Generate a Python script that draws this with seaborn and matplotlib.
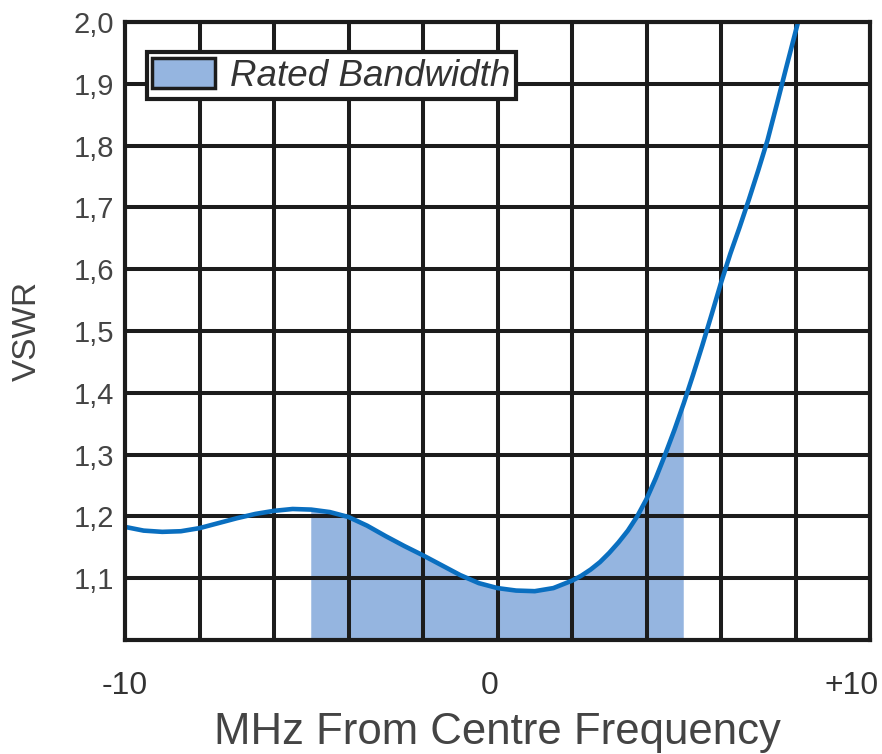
import matplotlib
matplotlib.use("Agg")
import matplotlib.pyplot as plt
import matplotlib.transforms as mtransforms
import seaborn as sns
import pandas as pd

# --- data ---
freq_mhz = [-10, -9.5, -9, -8.5, -8, -7.5, -7, -6.5, -6, -5.5, -5, -4.5, -4,
            -3.5, -3, -2.5, -2, -1.5, -1, -0.5, 0, 0.5, 1, 1.5, 2, 2.25, 2.5,
            2.75, 3, 3.25, 3.5, 3.75, 4, 4.25, 4.5, 4.75, 5, 5.25, 5.5, 5.75,
            6, 6.25, 6.5, 6.75, 7, 7.25, 7.5, 7.75, 8, 8.1]
vswr = [1.183, 1.177, 1.175, 1.176, 1.181, 1.189, 1.197, 1.204, 1.209, 1.212,
        1.211, 1.207, 1.199, 1.185, 1.168, 1.152, 1.137, 1.121, 1.105, 1.092,
        1.084, 1.080, 1.079, 1.084, 1.096, 1.104, 1.114, 1.126, 1.141, 1.158,
        1.177, 1.200, 1.228, 1.262, 1.300, 1.340, 1.383, 1.429, 1.477, 1.527,
        1.578, 1.625, 1.668, 1.713, 1.760, 1.809, 1.867, 1.926, 1.984, 2.007]
band_lo, band_hi = -5, 5
y_ticks = [1.1, 1.2, 1.3, 1.4, 1.5, 1.6, 1.7, 1.8, 1.9, 2.0]
y_labels = ["1,1", "1,2", "1,3", "1,4", "1,5", "1,6", "1,7", "1,8", "1,9", "2,0"]
x_ticks = [-10, 0, 10]
x_labels = ["-10", "0", "+10"]

df = pd.DataFrame({"freq": freq_mhz, "vswr": vswr})
band = df[(df.freq >= band_lo) & (df.freq <= band_hi)]

sns.set_style("white")
plt.rcParams["font.family"] = ["Liberation Sans", "DejaVu Sans"]

fig = plt.figure(figsize=(8.82, 7.54), dpi=100)
ax = fig.add_axes([125 / 882, 1 - 640 / 754, 745 / 882, 618 / 754])

fill_color = "#95b5e0"
line_color = "#0a6fc0"
ink = "#1c1c1c"

ax.fill_between(band.freq, 0, band.vswr, color=fill_color, lw=0, zorder=1,
                label="Rated Bandwidth")
sns.lineplot(data=df, x="freq", y="vswr", ax=ax, color=line_color, lw=3.3,
             zorder=3, legend=False)

ax.set_xlim(-10, 10)
ax.set_ylim(1.0, 2.0)

# grid every 2 MHz / 0.1 VSWR, drawn over the fill
for xv in range(-8, 10, 2):
    ax.axvline(xv, color=ink, lw=2.9, zorder=2)
for yv in y_ticks:
    ax.axhline(yv, color=ink, lw=2.9, zorder=2)

for sp in ax.spines.values():
    sp.set_color(ink)
    sp.set_linewidth(3.0)
    sp.set_zorder(4)

ax.set_yticks(y_ticks)
ax.set_yticklabels(y_labels)
ax.set_xticks(x_ticks)
ax.set_xticklabels(x_labels)
ax.tick_params(axis="y", length=0, pad=8, labelsize=21, labelcolor="#444444")
ax.tick_params(axis="x", length=0, pad=22, labelsize=23, labelcolor="#333333")

# the x labels sit slightly left of their ticks in the original
for lab, dx in zip(ax.get_xticklabels(), [0, -8, -18]):
    lab.set_transform(lab.get_transform() +
                      mtransforms.ScaledTranslation(dx / 100, 0, fig.dpi_scale_trans))

ax.set_xlabel("MHz From Centre Frequency", fontsize=31.5, color="#444444", labelpad=8)
ax.set_ylabel("VSWR", fontsize=24, color="#444444", labelpad=22)

leg = ax.legend(loc="upper left", bbox_to_anchor=(0.0295, 0.951), borderaxespad=0,
                fancybox=False, frameon=True, handlelength=1.7,
                handleheight=0.9, handletextpad=0.4, borderpad=0.15,
                prop={"style": "italic", "size": 26.5})
leg.get_frame().set_edgecolor(ink)
leg.get_frame().set_linewidth(3.0)
leg.get_frame().set_alpha(1)
for t in leg.get_texts():
    t.set_color("#333333")
for h in leg.legend_handles:
    h.set_edgecolor(ink)
    h.set_linewidth(2.5)
leg.set_zorder(5)

fig.savefig("out.png", dpi=100)
